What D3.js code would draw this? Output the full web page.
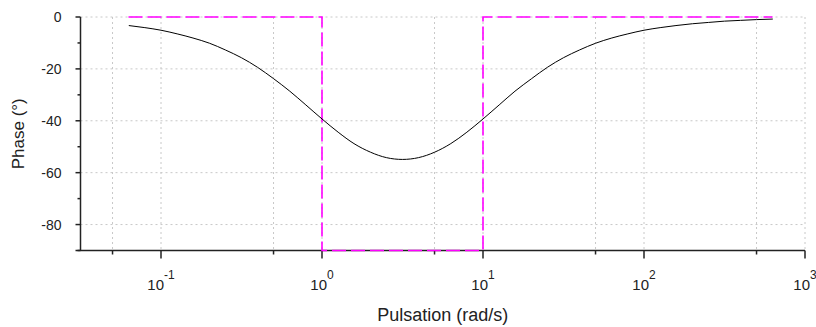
<!DOCTYPE html>
<html>
<head>
<meta charset="utf-8">
<script src="https://cdn.jsdelivr.net/npm/d3@7"></script>
<style>
  body { margin: 0; background: #fff; }
  svg { display: block; font-family: "Liberation Sans", Arial, sans-serif; }
</style>
</head>
<body>
<svg width="816" height="327"></svg>
<script>
// phase curve (rad/s, degrees)
const pulsation = [0.0631, 0.0794, 0.1, 0.126, 0.158, 0.2, 0.251, 0.316, 0.398, 0.501,
  0.631, 0.794, 1, 1.26, 1.58, 2, 2.51, 3.16, 3.98, 5.01,
  6.31, 7.94, 10, 12.6, 15.8, 20, 25.1, 31.6, 39.8, 50.1,
  63.1, 79.4, 100, 126, 158, 200, 251, 316, 398, 501, 631]
const phase = [-3.3, -4.1, -5.1, -6.5, -8.1, -10.1, -12.7, -15.7, -19.4, -23.8,
  -28.6, -33.9, -39.3, -44.4, -48.8, -52.1, -54.2, -54.9, -54.2, -52.1,
  -48.8, -44.4, -39.3, -33.9, -28.6, -23.8, -19.4, -15.7, -12.7, -10.1,
  -8.1, -6.5, -5.1, -4.1, -3.3, -2.6, -2.1, -1.6, -1.3, -1.0, -0.8]

// asymptotic phase (magenta dashed)
const asymW = [0.0628, 1, 1, 10, 10, 628]
const asymPhase = [0, 0, -90, -90, 0, 0]

const yTicks = [0, -20, -40, -60, -80]
const yMinor = [-10, -30, -50, -70, -90]
const xDecades = [-1, 0, 1, 2, 3]
const xMinor = [0.05, 0.5, 5, 50, 500]

const svg = d3.select("svg")
const margin = {top: 17, right: 11, bottom: 76.5, left: 80.5}
const width = +svg.attr("width") - margin.left - margin.right
const height = +svg.attr("height") - margin.top - margin.bottom

const x = d3.scaleLog().domain([Math.pow(10, -1.5), 1000]).range([0, width])
const y = d3.scaleLinear().domain([-90, 0]).range([height, 0])

const g = svg.append("g")
  .attr("transform", "translate(" + margin.left + "," + margin.top + ")")

// grid
const gridX = xDecades.map(d => Math.pow(10, d)).concat(xMinor)
g.selectAll("line.gx").data(gridX).enter().append("line")
  .attr("x1", d => x(d)).attr("x2", d => x(d))
  .attr("y1", 0).attr("y2", height)
  .attr("stroke", "#c8c8c8").attr("stroke-dasharray", "2,3")
g.selectAll("line.gy").data(yTicks).enter().append("line")
  .attr("x1", 0).attr("x2", width)
  .attr("y1", d => y(d)).attr("y2", d => y(d))
  .attr("stroke", "#c8c8c8").attr("stroke-dasharray", "2,3")

// y axis
const yAxis = g.append("g")
yAxis.append("line")
  .attr("x1", 0).attr("x2", 0).attr("y1", 0).attr("y2", height)
  .attr("stroke", "#222").attr("stroke-width", 1.5)
yAxis.selectAll("line.t").data(yTicks).enter().append("line")
  .attr("x1", -5).attr("x2", 0)
  .attr("y1", d => y(d)).attr("y2", d => y(d))
  .attr("stroke", "#222").attr("stroke-width", 1.5)
yAxis.selectAll("line.m").data(yMinor).enter().append("line")
  .attr("x1", -3).attr("x2", 0)
  .attr("y1", d => y(d)).attr("y2", d => y(d))
  .attr("stroke", "#222").attr("stroke-width", 1.5)
yAxis.selectAll("text").data(yTicks).enter().append("text")
  .attr("x", -19).attr("y", d => y(d) + 5)
  .attr("text-anchor", "end")
  .attr("font-size", 14)
  .attr("fill", "#222")
  .text(d => d)

// x axis
const xAxis = g.append("g").attr("transform", "translate(0," + height + ")")
xAxis.append("line")
  .attr("x1", -5).attr("x2", width).attr("y1", 0).attr("y2", 0)
  .attr("stroke", "#222").attr("stroke-width", 1.5)
xAxis.selectAll("line.t").data(xDecades).enter().append("line")
  .attr("x1", d => x(Math.pow(10, d))).attr("x2", d => x(Math.pow(10, d)))
  .attr("y1", 0).attr("y2", 8)
  .attr("stroke", "#222").attr("stroke-width", 1.5)
xAxis.selectAll("line.m").data(xMinor).enter().append("line")
  .attr("x1", d => x(d)).attr("x2", d => x(d))
  .attr("y1", 0).attr("y2", 4)
  .attr("stroke", "#222").attr("stroke-width", 1.5)
const xl = xAxis.selectAll("text").data(xDecades).enter().append("text")
  .attr("x", d => x(Math.pow(10, d)))
  .attr("y", 39.5)
  .attr("text-anchor", "middle")
  .attr("font-size", 15)
  .attr("fill", "#222")
xl.append("tspan").text("10")
xl.append("tspan").attr("dy", -11).attr("font-size", 12).text(d => d)

// asymptotes, drawn over the axes like the original
const line = d3.line()
g.append("path")
  .attr("d", line(asymW.map((w, i) => [x(w), y(asymPhase[i])])))
  .attr("fill", "none")
  .attr("stroke", "#ff00ff")
  .attr("stroke-width", 1.6)
  .attr("stroke-dasharray", "14,5")

// phase curve
const curve = d3.line().curve(d3.curveMonotoneX)
g.append("path")
  .attr("d", curve(pulsation.map((w, i) => [x(w), y(phase[i])])))
  .attr("fill", "none")
  .attr("stroke", "#000")
  .attr("stroke-width", 1)

// axis titles
svg.append("text")
  .attr("x", margin.left + width / 2)
  .attr("y", 321)
  .attr("text-anchor", "middle")
  .attr("font-size", 18)
  .attr("fill", "#222")
  .text("Pulsation (rad/s)")

svg.append("text")
  .attr("transform", "translate(24," + (margin.top + height / 2) + ") rotate(-90)")
  .attr("text-anchor", "middle")
  .attr("font-size", 17)
  .attr("fill", "#222")
  .text("Phase (°)")
</script>
</body>
</html>
